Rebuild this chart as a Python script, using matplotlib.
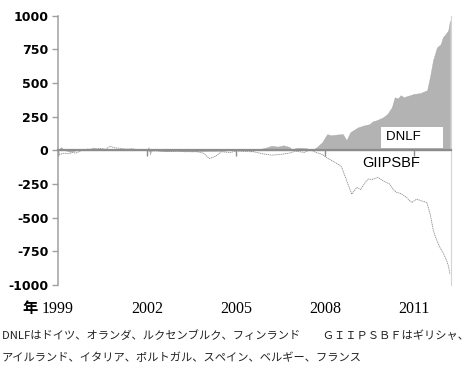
import numpy as np
import matplotlib
matplotlib.use('Agg')
import matplotlib.pyplot as plt

plt.rcParams['font.family'] = ['Noto Sans CJK JP', 'DejaVu Sans']

# DNLF (area, gray) - decimal year / value
dnlf_year = [1999.0, 1999.1, 1999.2, 1999.4, 1999.6, 1999.8, 2000.0, 2000.2, 2000.35, 2000.5,
             2000.7, 2000.9, 2001.1, 2001.3, 2001.5, 2001.7, 2002.0, 2002.05, 2002.1, 2002.15,
             2002.3, 2002.6, 2003.0, 2003.5, 2004.0, 2004.5, 2005.0, 2005.3, 2005.5, 2005.8,
             2006.0, 2006.2, 2006.4, 2006.6, 2006.8, 2006.9, 2007.0, 2007.2, 2007.4, 2007.5,
             2007.6, 2007.75, 2007.9, 2008.07, 2008.2, 2008.4, 2008.6, 2008.72, 2008.85, 2009.1,
             2009.3, 2009.5, 2009.6, 2009.75, 2009.95, 2010.1, 2010.25, 2010.35, 2010.45, 2010.55,
             2010.65, 2010.86, 2011.0, 2011.2, 2011.44, 2011.55, 2011.64, 2011.77, 2011.9, 2011.97,
             2012.08, 2012.15, 2012.21]
dnlf_val = [0, 25, 5, -10, 0, 5, 8, 22, 10, 15,
            5, 12, 3, 8, 0, 5, 0, 25, -30, 10,
            0, -5, -3, -8, -5, -3, 5, 12, -5, 10,
            20, 35, 28, 38, 25, 5, 18, 20, 15, 0,
            5, 30, 60, 121, 112, 118, 121, 75, 135, 170,
            185, 195, 215, 225, 245, 270, 320, 395, 385, 410,
            395, 410, 420, 425, 447, 560, 670, 765, 790, 840,
            870, 890, 965]

# GIIPSBF (dotted line)
gii_year = [1999.0, 1999.05, 1999.2, 1999.35, 1999.5, 1999.6, 1999.8, 2000.0, 2000.2, 2000.4,
            2000.6, 2000.75, 2000.9, 2001.1, 2001.3, 2001.5, 2001.7, 2001.9, 2002.0, 2002.1,
            2002.4, 2002.7, 2003.0, 2003.3, 2003.6, 2003.9, 2004.1, 2004.3, 2004.5, 2004.8,
            2005.0, 2005.3, 2005.6, 2005.9, 2006.2, 2006.5, 2006.8, 2007.0, 2007.3, 2007.5,
            2007.7, 2007.9, 2008.1, 2008.3, 2008.5, 2008.56, 2008.73, 2008.9, 2009.07, 2009.2,
            2009.35, 2009.45, 2009.6, 2009.78, 2009.95, 2010.18, 2010.3, 2010.41, 2010.55, 2010.75,
            2010.92, 2011.09, 2011.25, 2011.43, 2011.55, 2011.65, 2011.75, 2011.87, 2012.0, 2012.1,
            2012.16, 2012.21]
gii_val = [0, -30, -20, -25, -15, -20, 0, 10, 5, 15,
           8, 30, 20, 15, 10, 12, 5, 8, 0, -5,
           -3, -8, -5, -10, -5, -20, -60, -45, -10, -15,
           -5, -8, -10, -25, -35, -30, -20, -5, -15, 5,
           -15, -30, -60, -85, -110, -125, -225, -325, -275, -290,
           -240, -213, -215, -200, -225, -250, -290, -312, -320, -350,
           -387, -362, -375, -387, -480, -595, -660, -721, -770, -820,
           -860, -920]

year_ticks = [1999, 2002, 2005, 2008, 2011]
y_ticks = [-1000, -750, -500, -250, 0, 250, 500, 750, 1000]

note1 = 'DNLFはドイツ、オランダ、ルクセンブルク、フィンランド　　ＧＩＩＰＳＢＦはギリシャ、'
note2 = 'アイルランド、イタリア、ポルトガル、スペイン、ベルギー、フランス'

fig = plt.figure(figsize=(4.68, 3.77), dpi=100)
ax = fig.add_axes([0.124, 0.244, 0.84, 0.714])

ax.fill_between(dnlf_year, dnlf_val, 0, color='#b3b3b3', linewidth=0.3, edgecolor='#a8a8a8')
ax.plot(gii_year, gii_val, color='#8c8c8c', linewidth=0.6, linestyle=(0, (1.5, 0.8)))

ax.set_xlim(1999, 2012.25)
ax.set_ylim(-1000, 1000)

ax.spines['top'].set_visible(False)
ax.spines['right'].set_color('#d4d4d4')
ax.spines['right'].set_linewidth(0.8)
ax.spines['left'].set_color('#a0a0a0')
ax.spines['left'].set_linewidth(1.1)
ax.spines['bottom'].set_position(('data', 0))
ax.spines['bottom'].set_color('#8c8c8c')
ax.spines['bottom'].set_linewidth(1.6)
ax.spines['bottom'].set_zorder(3)

ax.set_yticks(y_ticks)
ax.set_yticklabels([str(v) for v in y_ticks], fontfamily='DejaVu Sans',
                   fontweight='bold', fontsize=9)
ax.tick_params(axis='y', direction='out', length=4, width=1, color='#a0a0a0', pad=3)
ax.set_xticks(year_ticks)
ax.set_xticklabels([])
ax.tick_params(axis='x', direction='out', length=4, width=1, color='#8c8c8c')

# year labels under the plot
for yr in year_ticks:
    ax.text(yr, -0.09, str(yr), transform=ax.get_xaxis_transform(),
            ha='center', va='center', fontsize=11.5, fontfamily='Liberation Serif')
fig.text(0.064, 0.183, '年', fontsize=11, fontweight='bold', ha='center', va='center')

ax.text(2010.05, 98, 'DNLF' + ' ' * 5, fontsize=9.5, fontfamily='Liberation Sans',
        va='center', ha='left',
        bbox=dict(boxstyle='square,pad=0.35', facecolor='white', edgecolor='none'))
ax.text(2010.22, -97, 'GIIPSBF', fontsize=10.5, fontfamily='Liberation Sans', va='center', ha='center')

fig.text(0.004, 0.111, note1, fontsize=8.1, color='#222222', va='center', ha='left')
fig.text(0.004, 0.050, note2, fontsize=8.1, color='#222222', va='center', ha='left')

plt.savefig('out.png', dpi=100)
